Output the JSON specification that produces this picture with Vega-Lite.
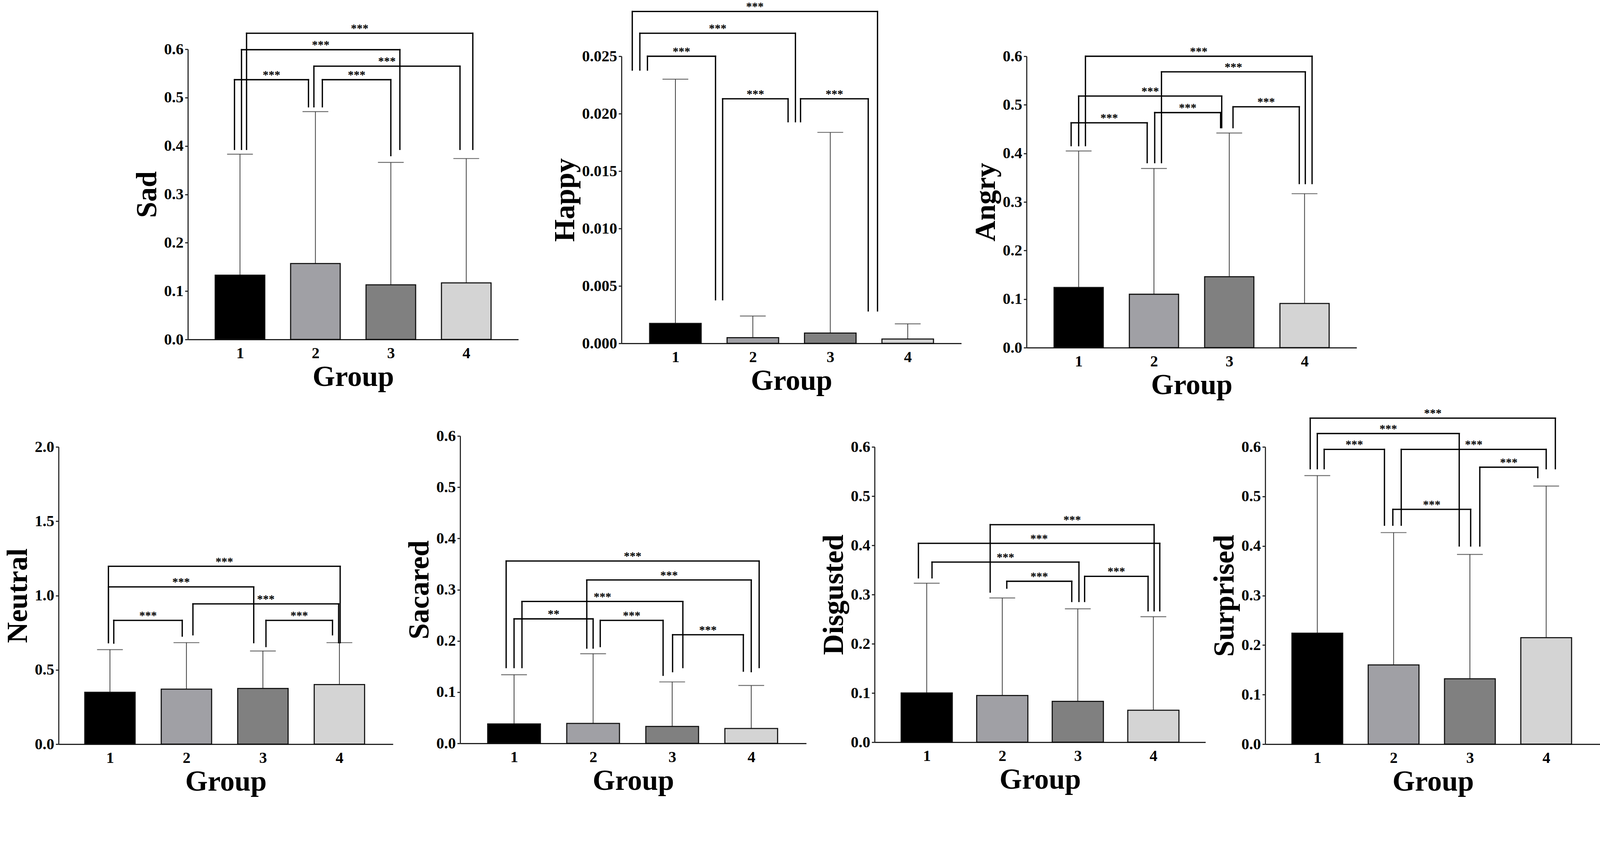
{
  "$schema": "https://vega.github.io/schema/vega-lite/v6.json",
  "background": "white",
  "autosize": {"type": "none"},
  "padding": {"left": 150, "top": 144, "right": 4178, "bottom": 2014},
  "config": {
    "view": {"stroke": null},
    "font": "Liberation Serif",
    "axis": {
      "labelFont": "Liberation Serif", "labelFontSize": 40, "labelFontWeight": "bold", "labelColor": "black",
      "titleFont": "Liberation Serif", "titleFontSize": 74, "titleFontWeight": "bold", "titleColor": "black",
      "domainColor": "#222", "domainWidth": 2.8, "tickColor": "#222", "tickWidth": 2.8, "grid": false,
      "labelOverlap": false, "labelFlush": false, "labelBound": false
    },
    "axisY": {"tickSize": 7.5, "labelPadding": 4, "titlePadding": 4},
    "axisX": {"tickSize": 0, "labelPadding": 15, "titlePadding": 5},
    "rule": {"clip": false},
    "text": {"clip": false}
  },
  "datasets": {
    "sad": [{"g":1,"mean":0.133,"upper":0.383},{"g":2,"mean":0.157,"upper":0.471},{"g":3,"mean":0.113,"upper":0.366},{"g":4,"mean":0.117,"upper":0.374}],
    "sad_sig": [
      {"xl":0.927,"xr":1.908,"yl":0.393,"yr":0.481,"top":0.537,"lab":"***"},
      {"xl":1.02,"xr":3.12,"yl":0.393,"yr":0.393,"top":0.599,"lab":"***"},
      {"xl":1.087,"xr":4.087,"yl":0.393,"yr":0.393,"top":0.633,"lab":"***"},
      {"xl":1.98,"xr":3.917,"yl":0.481,"yr":0.393,"top":0.565,"lab":"***"},
      {"xl":2.092,"xr":3.0,"yl":0.481,"yr":0.38,"top":0.537,"lab":"***"}
    ],
    "happy": [{"g":1,"mean":0.00174,"upper":0.0230},{"g":2,"mean":0.0005,"upper":0.00238},{"g":3,"mean":0.0009,"upper":0.01837},{"g":4,"mean":0.00038,"upper":0.0017}],
    "happy_sig": [
      {"xl":0.443,"xr":3.61,"yl":0.0238,"yr":0.00283,"top":0.0289,"lab":"***"},
      {"xl":0.541,"xr":2.55,"yl":0.0238,"yr":0.0193,"top":0.0270,"lab":"***"},
      {"xl":0.639,"xr":1.518,"yl":0.0238,"yr":0.0038,"top":0.0250,"lab":"***"},
      {"xl":1.61,"xr":2.455,"yl":0.0038,"yr":0.0193,"top":0.0213,"lab":"***"},
      {"xl":2.616,"xr":3.49,"yl":0.0193,"yr":0.00283,"top":0.0213,"lab":"***"}
    ],
    "angry": [{"g":1,"mean":0.124,"upper":0.405},{"g":2,"mean":0.110,"upper":0.369},{"g":3,"mean":0.146,"upper":0.442},{"g":4,"mean":0.091,"upper":0.317}],
    "angry_sig": [
      {"xl":1.09,"xr":4.10,"yl":0.416,"yr":0.338,"top":0.600,"lab":"***"},
      {"xl":2.10,"xr":4.01,"yl":0.381,"yr":0.338,"top":0.568,"lab":"***"},
      {"xl":1.0,"xr":2.90,"yl":0.416,"yr":0.453,"top":0.518,"lab":"***"},
      {"xl":2.01,"xr":2.885,"yl":0.381,"yr":0.453,"top":0.484,"lab":"***"},
      {"xl":0.90,"xr":1.91,"yl":0.416,"yr":0.381,"top":0.463,"lab":"***"},
      {"xl":3.05,"xr":3.93,"yl":0.453,"yr":0.338,"top":0.496,"lab":"***"}
    ],
    "neutral": [{"g":1,"mean":0.349,"upper":0.636},{"g":2,"mean":0.370,"upper":0.683},{"g":3,"mean":0.375,"upper":0.627},{"g":4,"mean":0.401,"upper":0.683}],
    "neutral_sig": [
      {"xl":0.98,"xr":4.01,"yl":0.683,"yr":0.683,"top":1.197,"lab":"***"},
      {"xl":0.98,"xr":2.88,"yl":0.683,"yr":0.683,"top":1.058,"lab":"***"},
      {"xl":2.085,"xr":3.99,"yl":0.736,"yr":0.683,"top":0.944,"lab":"***"},
      {"xl":1.05,"xr":1.945,"yl":0.68,"yr":0.727,"top":0.833,"lab":"***"},
      {"xl":3.04,"xr":3.91,"yl":0.657,"yr":0.736,"top":0.833,"lab":"***"}
    ],
    "sacared": [{"g":1,"mean":0.038,"upper":0.134},{"g":2,"mean":0.039,"upper":0.175},{"g":3,"mean":0.033,"upper":0.120},{"g":4,"mean":0.029,"upper":0.113}],
    "sacared_sig": [
      {"xl":0.90,"xr":4.10,"yl":0.148,"yr":0.148,"top":0.356,"lab":"***"},
      {"xl":1.92,"xr":4.0,"yl":0.186,"yr":0.140,"top":0.319,"lab":"***"},
      {"xl":1.10,"xr":3.135,"yl":0.148,"yr":0.148,"top":0.277,"lab":"***"},
      {"xl":1.0,"xr":2.0,"yl":0.148,"yr":0.186,"top":0.243,"lab":"**"},
      {"xl":2.09,"xr":2.885,"yl":0.189,"yr":0.133,"top":0.240,"lab":"***"},
      {"xl":3.005,"xr":3.90,"yl":0.140,"yr":0.141,"top":0.212,"lab":"***"}
    ],
    "disgusted": [{"g":1,"mean":0.100,"upper":0.323},{"g":2,"mean":0.095,"upper":0.293},{"g":3,"mean":0.083,"upper":0.271},{"g":4,"mean":0.065,"upper":0.255}],
    "disgusted_sig": [
      {"xl":1.84,"xr":4.01,"yl":0.305,"yr":0.267,"top":0.442,"lab":"***"},
      {"xl":0.89,"xr":4.085,"yl":0.334,"yr":0.267,"top":0.404,"lab":"***"},
      {"xl":1.07,"xr":3.015,"yl":0.334,"yr":0.286,"top":0.366,"lab":"***"},
      {"xl":2.06,"xr":2.92,"yl":0.313,"yr":0.286,"top":0.327,"lab":"***"},
      {"xl":3.09,"xr":3.93,"yl":0.286,"yr":0.267,"top":0.337,"lab":"***"}
    ],
    "surprised": [{"g":1,"mean":0.224,"upper":0.542},{"g":2,"mean":0.160,"upper":0.427},{"g":3,"mean":0.132,"upper":0.383},{"g":4,"mean":0.215,"upper":0.521}],
    "surprised_sig": [
      {"xl":0.907,"xr":4.12,"yl":0.556,"yr":0.556,"top":0.658,"lab":"***"},
      {"xl":1.0,"xr":2.86,"yl":0.556,"yr":0.400,"top":0.627,"lab":"***"},
      {"xl":1.09,"xr":1.88,"yl":0.556,"yr":0.442,"top":0.595,"lab":"***"},
      {"xl":2.10,"xr":4.0,"yl":0.442,"yr":0.556,"top":0.595,"lab":"***"},
      {"xl":3.13,"xr":3.89,"yl":0.400,"yr":0.538,"top":0.559,"lab":"***"},
      {"xl":1.99,"xr":3.01,"yl":0.442,"yr":0.400,"top":0.474,"lab":"***"}
    ],
    "blank": []
  },
  "spacing": 20,
  "vconcat": [
    {
      "spacing": 0,
      "bounds": "flush",
      "hconcat": [
        {"width": 331, "height": 1, "data": {"name": "blank"}, "mark": {"type": "point", "opacity": 0}},
        {
          "width": 846, "height": 725,
          "data": {"name": "sad"},
          "layer": [
            {"mark": {"type": "rule", "color": "#333", "strokeWidth": 1.9},
             "encoding": {
               "x": {"field": "g", "type": "quantitative", "scale": {"domain": [0.335, 4.665], "nice": false, "zero": false}, "axis": {"values": [1,2,3,4], "format": "d", "title": "Group"}},
               "y": {"field": "mean", "type": "quantitative", "scale": {"domain": [0, 0.6], "range": [725, -18], "nice": false}, "axis": {"values": [0,0.1,0.2,0.3,0.4,0.5,0.6], "format": ".1f", "title": "Sad"}},
               "y2": {"field": "upper"}}},
            {"mark": {"type": "tick", "orient": "horizontal", "size": 66, "thickness": 2.4, "color": "#333"},
             "encoding": {"x": {"field": "g", "type": "quantitative"}, "y": {"field": "upper", "type": "quantitative"}}},
            {"mark": {"type": "bar", "width": 127, "stroke": "#111", "strokeWidth": 2.8},
             "encoding": {"x": {"field": "g", "type": "quantitative"}, "y": {"field": "mean", "type": "quantitative"},
               "color": {"field": "g", "type": "nominal", "scale": {"domain": [1,2,3,4], "range": ["#000000","#a0a0a5","#808080","#d4d4d4"]}, "legend": null}}},
            {"data": {"name": "sad_sig"},
             "layer": [
               {"mark": {"type": "rule", "color": "black", "strokeWidth": 3.3, "strokeCap": "square"}, "encoding": {"x": {"field": "xl", "type": "quantitative"}, "y": {"field": "yl", "type": "quantitative"}, "y2": {"field": "top"}}},
               {"mark": {"type": "rule", "color": "black", "strokeWidth": 3.3, "strokeCap": "square"}, "encoding": {"x": {"field": "xr", "type": "quantitative"}, "y": {"field": "yr", "type": "quantitative"}, "y2": {"field": "top"}}},
               {"mark": {"type": "rule", "color": "black", "strokeWidth": 3.3, "strokeCap": "square"}, "encoding": {"x": {"field": "xl", "type": "quantitative"}, "x2": {"field": "xr"}, "y": {"field": "top", "type": "quantitative"}}},
               {"transform": [{"calculate": "(datum.xl + datum.xr) / 2", "as": "xm"}],
                "mark": {"type": "text", "font": "Liberation Serif", "fontWeight": "bold", "fontSize": 30, "baseline": "alphabetic", "dy": -3, "color": "black"},
                "encoding": {"x": {"field": "xm", "type": "quantitative"}, "y": {"field": "top", "type": "quantitative"}, "text": {"field": "lab"}}}
             ]}
          ]
        },
        {"width": 264, "height": 1, "data": {"name": "blank"}, "mark": {"type": "point", "opacity": 0}},
        {
          "width": 870, "height": 735,
          "data": {"name": "happy"},
          "layer": [
            {"mark": {"type": "rule", "color": "#333", "strokeWidth": 1.9},
             "encoding": {
               "x": {"field": "g", "type": "quantitative", "scale": {"domain": [0.329, 4.667], "nice": false, "zero": false}, "axis": {"values": [1,2,3,4], "format": "d", "title": "Group"}},
               "y": {"field": "mean", "type": "quantitative", "scale": {"domain": [0, 0.025], "nice": false}, "axis": {"values": [0,0.005,0.01,0.015,0.02,0.025], "format": ".3f", "title": "Happy"}},
               "y2": {"field": "upper"}}},
            {"mark": {"type": "tick", "orient": "horizontal", "size": 66, "thickness": 2.4, "color": "#333"},
             "encoding": {"x": {"field": "g", "type": "quantitative"}, "y": {"field": "upper", "type": "quantitative"}}},
            {"mark": {"type": "bar", "width": 132, "stroke": "#111", "strokeWidth": 2.8},
             "encoding": {"x": {"field": "g", "type": "quantitative"}, "y": {"field": "mean", "type": "quantitative"},
               "color": {"field": "g", "type": "nominal", "scale": {"domain": [1,2,3,4], "range": ["#000000","#a0a0a5","#808080","#d4d4d4"]}, "legend": null}}},
            {"data": {"name": "happy_sig"},
             "layer": [
               {"mark": {"type": "rule", "color": "black", "strokeWidth": 3.3, "strokeCap": "square"}, "encoding": {"x": {"field": "xl", "type": "quantitative"}, "y": {"field": "yl", "type": "quantitative"}, "y2": {"field": "top"}}},
               {"mark": {"type": "rule", "color": "black", "strokeWidth": 3.3, "strokeCap": "square"}, "encoding": {"x": {"field": "xr", "type": "quantitative"}, "y": {"field": "yr", "type": "quantitative"}, "y2": {"field": "top"}}},
               {"mark": {"type": "rule", "color": "black", "strokeWidth": 3.3, "strokeCap": "square"}, "encoding": {"x": {"field": "xl", "type": "quantitative"}, "x2": {"field": "xr"}, "y": {"field": "top", "type": "quantitative"}}},
               {"transform": [{"calculate": "(datum.xl + datum.xr) / 2", "as": "xm"}],
                "mark": {"type": "text", "font": "Liberation Serif", "fontWeight": "bold", "fontSize": 30, "baseline": "alphabetic", "dy": -3, "color": "black"},
                "encoding": {"x": {"field": "xm", "type": "quantitative"}, "y": {"field": "top", "type": "quantitative"}, "text": {"field": "lab"}}}
             ]}
          ]
        },
        {"width": 167, "height": 1, "data": {"name": "blank"}, "mark": {"type": "point", "opacity": 0}},
        {
          "width": 845, "height": 746,
          "data": {"name": "angry"},
          "layer": [
            {"mark": {"type": "rule", "color": "#333", "strokeWidth": 1.9},
             "encoding": {
               "x": {"field": "g", "type": "quantitative", "scale": {"domain": [0.334, 4.666], "nice": false, "zero": false}, "axis": {"values": [1,2,3,4], "format": "d", "title": "Group"}},
               "y": {"field": "mean", "type": "quantitative", "scale": {"domain": [0, 0.6], "nice": false}, "axis": {"values": [0,0.1,0.2,0.3,0.4,0.5,0.6], "format": ".1f", "title": "Angry"}},
               "y2": {"field": "upper"}}},
            {"mark": {"type": "tick", "orient": "horizontal", "size": 66, "thickness": 2.4, "color": "#333"},
             "encoding": {"x": {"field": "g", "type": "quantitative"}, "y": {"field": "upper", "type": "quantitative"}}},
            {"mark": {"type": "bar", "width": 126, "stroke": "#111", "strokeWidth": 2.8},
             "encoding": {"x": {"field": "g", "type": "quantitative"}, "y": {"field": "mean", "type": "quantitative"},
               "color": {"field": "g", "type": "nominal", "scale": {"domain": [1,2,3,4], "range": ["#000000","#a0a0a5","#808080","#d4d4d4"]}, "legend": null}}},
            {"data": {"name": "angry_sig"},
             "layer": [
               {"mark": {"type": "rule", "color": "black", "strokeWidth": 3.3, "strokeCap": "square"}, "encoding": {"x": {"field": "xl", "type": "quantitative"}, "y": {"field": "yl", "type": "quantitative"}, "y2": {"field": "top"}}},
               {"mark": {"type": "rule", "color": "black", "strokeWidth": 3.3, "strokeCap": "square"}, "encoding": {"x": {"field": "xr", "type": "quantitative"}, "y": {"field": "yr", "type": "quantitative"}, "y2": {"field": "top"}}},
               {"mark": {"type": "rule", "color": "black", "strokeWidth": 3.3, "strokeCap": "square"}, "encoding": {"x": {"field": "xl", "type": "quantitative"}, "x2": {"field": "xr"}, "y": {"field": "top", "type": "quantitative"}}},
               {"transform": [{"calculate": "(datum.xl + datum.xr) / 2", "as": "xm"}],
                "mark": {"type": "text", "font": "Liberation Serif", "fontWeight": "bold", "fontSize": 30, "baseline": "alphabetic", "dy": -3, "color": "black"},
                "encoding": {"x": {"field": "xm", "type": "quantitative"}, "y": {"field": "top", "type": "quantitative"}, "text": {"field": "lab"}}}
             ]}
          ]
        }
      ]
    },
    {
      "spacing": 0,
      "bounds": "flush",
      "hconcat": [
        {
          "width": 856, "height": 761,
          "data": {"name": "neutral"},
          "layer": [
            {"mark": {"type": "rule", "color": "#333", "strokeWidth": 1.9},
             "encoding": {
               "x": {"field": "g", "type": "quantitative", "scale": {"domain": [0.354, 4.675], "nice": false, "zero": false}, "axis": {"values": [1,2,3,4], "format": "d", "title": "Group"}},
               "y": {"field": "mean", "type": "quantitative", "scale": {"domain": [0, 2], "nice": false}, "axis": {"values": [0,0.5,1,1.5,2], "format": ".1f", "title": "Neutral"}},
               "y2": {"field": "upper"}}},
            {"mark": {"type": "tick", "orient": "horizontal", "size": 66, "thickness": 2.4, "color": "#333"},
             "encoding": {"x": {"field": "g", "type": "quantitative"}, "y": {"field": "upper", "type": "quantitative"}}},
            {"mark": {"type": "bar", "width": 129, "stroke": "#111", "strokeWidth": 2.8},
             "encoding": {"x": {"field": "g", "type": "quantitative"}, "y": {"field": "mean", "type": "quantitative"},
               "color": {"field": "g", "type": "nominal", "scale": {"domain": [1,2,3,4], "range": ["#000000","#a0a0a5","#808080","#d4d4d4"]}, "legend": null}}},
            {"data": {"name": "neutral_sig"},
             "layer": [
               {"mark": {"type": "rule", "color": "black", "strokeWidth": 3.3, "strokeCap": "square"}, "encoding": {"x": {"field": "xl", "type": "quantitative"}, "y": {"field": "yl", "type": "quantitative"}, "y2": {"field": "top"}}},
               {"mark": {"type": "rule", "color": "black", "strokeWidth": 3.3, "strokeCap": "square"}, "encoding": {"x": {"field": "xr", "type": "quantitative"}, "y": {"field": "yr", "type": "quantitative"}, "y2": {"field": "top"}}},
               {"mark": {"type": "rule", "color": "black", "strokeWidth": 3.3, "strokeCap": "square"}, "encoding": {"x": {"field": "xl", "type": "quantitative"}, "x2": {"field": "xr"}, "y": {"field": "top", "type": "quantitative"}}},
               {"transform": [{"calculate": "(datum.xl + datum.xr) / 2", "as": "xm"}],
                "mark": {"type": "text", "font": "Liberation Serif", "fontWeight": "bold", "fontSize": 30, "baseline": "alphabetic", "dy": -3, "color": "black"},
                "encoding": {"x": {"field": "xm", "type": "quantitative"}, "y": {"field": "top", "type": "quantitative"}, "text": {"field": "lab"}}}
             ]}
          ]
        },
        {"width": 172, "height": 1, "data": {"name": "blank"}, "mark": {"type": "point", "opacity": 0}},
        {
          "width": 886, "height": 759,
          "data": {"name": "sacared"},
          "layer": [
            {"mark": {"type": "rule", "color": "#333", "strokeWidth": 1.9},
             "encoding": {
               "x": {"field": "g", "type": "quantitative", "scale": {"domain": [0.343, 4.671], "nice": false, "zero": false}, "axis": {"values": [1,2,3,4], "format": "d", "title": "Group"}},
               "y": {"field": "mean", "type": "quantitative", "scale": {"domain": [0, 0.6], "range": [759, -28], "nice": false}, "axis": {"values": [0,0.1,0.2,0.3,0.4,0.5,0.6], "format": ".1f", "title": "Sacared"}},
               "y2": {"field": "upper"}}},
            {"mark": {"type": "tick", "orient": "horizontal", "size": 66, "thickness": 2.4, "color": "#333"},
             "encoding": {"x": {"field": "g", "type": "quantitative"}, "y": {"field": "upper", "type": "quantitative"}}},
            {"mark": {"type": "bar", "width": 135, "stroke": "#111", "strokeWidth": 2.8},
             "encoding": {"x": {"field": "g", "type": "quantitative"}, "y": {"field": "mean", "type": "quantitative"},
               "color": {"field": "g", "type": "nominal", "scale": {"domain": [1,2,3,4], "range": ["#000000","#a0a0a5","#808080","#d4d4d4"]}, "legend": null}}},
            {"data": {"name": "sacared_sig"},
             "layer": [
               {"mark": {"type": "rule", "color": "black", "strokeWidth": 3.3, "strokeCap": "square"}, "encoding": {"x": {"field": "xl", "type": "quantitative"}, "y": {"field": "yl", "type": "quantitative"}, "y2": {"field": "top"}}},
               {"mark": {"type": "rule", "color": "black", "strokeWidth": 3.3, "strokeCap": "square"}, "encoding": {"x": {"field": "xr", "type": "quantitative"}, "y": {"field": "yr", "type": "quantitative"}, "y2": {"field": "top"}}},
               {"mark": {"type": "rule", "color": "black", "strokeWidth": 3.3, "strokeCap": "square"}, "encoding": {"x": {"field": "xl", "type": "quantitative"}, "x2": {"field": "xr"}, "y": {"field": "top", "type": "quantitative"}}},
               {"transform": [{"calculate": "(datum.xl + datum.xr) / 2", "as": "xm"}],
                "mark": {"type": "text", "font": "Liberation Serif", "fontWeight": "bold", "fontSize": 30, "baseline": "alphabetic", "dy": -3, "color": "black"},
                "encoding": {"x": {"field": "xm", "type": "quantitative"}, "y": {"field": "top", "type": "quantitative"}, "text": {"field": "lab"}}}
             ]}
          ]
        },
        {"width": 175, "height": 1, "data": {"name": "blank"}, "mark": {"type": "point", "opacity": 0}},
        {
          "width": 847, "height": 756,
          "data": {"name": "disgusted"},
          "layer": [
            {"mark": {"type": "rule", "color": "#333", "strokeWidth": 1.9},
             "encoding": {
               "x": {"field": "g", "type": "quantitative", "scale": {"domain": [0.336, 4.664], "nice": false, "zero": false}, "axis": {"values": [1,2,3,4], "format": "d", "title": "Group"}},
               "y": {"field": "mean", "type": "quantitative", "scale": {"domain": [0, 0.6], "nice": false}, "axis": {"values": [0,0.1,0.2,0.3,0.4,0.5,0.6], "format": ".1f", "title": "Disgusted"}},
               "y2": {"field": "upper"}}},
            {"mark": {"type": "tick", "orient": "horizontal", "size": 66, "thickness": 2.4, "color": "#333"},
             "encoding": {"x": {"field": "g", "type": "quantitative"}, "y": {"field": "upper", "type": "quantitative"}}},
            {"mark": {"type": "bar", "width": 131, "stroke": "#111", "strokeWidth": 2.8},
             "encoding": {"x": {"field": "g", "type": "quantitative"}, "y": {"field": "mean", "type": "quantitative"},
               "color": {"field": "g", "type": "nominal", "scale": {"domain": [1,2,3,4], "range": ["#000000","#a0a0a5","#808080","#d4d4d4"]}, "legend": null}}},
            {"data": {"name": "disgusted_sig"},
             "layer": [
               {"mark": {"type": "rule", "color": "black", "strokeWidth": 3.3, "strokeCap": "square"}, "encoding": {"x": {"field": "xl", "type": "quantitative"}, "y": {"field": "yl", "type": "quantitative"}, "y2": {"field": "top"}}},
               {"mark": {"type": "rule", "color": "black", "strokeWidth": 3.3, "strokeCap": "square"}, "encoding": {"x": {"field": "xr", "type": "quantitative"}, "y": {"field": "yr", "type": "quantitative"}, "y2": {"field": "top"}}},
               {"mark": {"type": "rule", "color": "black", "strokeWidth": 3.3, "strokeCap": "square"}, "encoding": {"x": {"field": "xl", "type": "quantitative"}, "x2": {"field": "xr"}, "y": {"field": "top", "type": "quantitative"}}},
               {"transform": [{"calculate": "(datum.xl + datum.xr) / 2", "as": "xm"}],
                "mark": {"type": "text", "font": "Liberation Serif", "fontWeight": "bold", "fontSize": 30, "baseline": "alphabetic", "dy": -3, "color": "black"},
                "encoding": {"x": {"field": "xm", "type": "quantitative"}, "y": {"field": "top", "type": "quantitative"}, "text": {"field": "lab"}}}
             ]}
          ]
        },
        {"width": 153, "height": 1, "data": {"name": "blank"}, "mark": {"type": "point", "opacity": 0}},
        {
          "width": 859, "height": 761,
          "data": {"name": "surprised"},
          "layer": [
            {"mark": {"type": "rule", "color": "#333", "strokeWidth": 1.9},
             "encoding": {
               "x": {"field": "g", "type": "quantitative", "scale": {"domain": [0.343, 4.69], "nice": false, "zero": false}, "axis": {"values": [1,2,3,4], "format": "d", "title": "Group"}},
               "y": {"field": "mean", "type": "quantitative", "scale": {"domain": [0, 0.6], "nice": false}, "axis": {"values": [0,0.1,0.2,0.3,0.4,0.5,0.6], "format": ".1f", "title": "Surprised"}},
               "y2": {"field": "upper"}}},
            {"mark": {"type": "tick", "orient": "horizontal", "size": 66, "thickness": 2.4, "color": "#333"},
             "encoding": {"x": {"field": "g", "type": "quantitative"}, "y": {"field": "upper", "type": "quantitative"}}},
            {"mark": {"type": "bar", "width": 130, "stroke": "#111", "strokeWidth": 2.8},
             "encoding": {"x": {"field": "g", "type": "quantitative"}, "y": {"field": "mean", "type": "quantitative"},
               "color": {"field": "g", "type": "nominal", "scale": {"domain": [1,2,3,4], "range": ["#000000","#a0a0a5","#808080","#d4d4d4"]}, "legend": null}}},
            {"data": {"name": "surprised_sig"},
             "layer": [
               {"mark": {"type": "rule", "color": "black", "strokeWidth": 3.3, "strokeCap": "square"}, "encoding": {"x": {"field": "xl", "type": "quantitative"}, "y": {"field": "yl", "type": "quantitative"}, "y2": {"field": "top"}}},
               {"mark": {"type": "rule", "color": "black", "strokeWidth": 3.3, "strokeCap": "square"}, "encoding": {"x": {"field": "xr", "type": "quantitative"}, "y": {"field": "yr", "type": "quantitative"}, "y2": {"field": "top"}}},
               {"mark": {"type": "rule", "color": "black", "strokeWidth": 3.3, "strokeCap": "square"}, "encoding": {"x": {"field": "xl", "type": "quantitative"}, "x2": {"field": "xr"}, "y": {"field": "top", "type": "quantitative"}}},
               {"transform": [{"calculate": "(datum.xl + datum.xr) / 2", "as": "xm"}],
                "mark": {"type": "text", "font": "Liberation Serif", "fontWeight": "bold", "fontSize": 30, "baseline": "alphabetic", "dy": -3, "color": "black"},
                "encoding": {"x": {"field": "xm", "type": "quantitative"}, "y": {"field": "top", "type": "quantitative"}, "text": {"field": "lab"}}}
             ]}
          ]
        }
      ]
    }
  ]
}
